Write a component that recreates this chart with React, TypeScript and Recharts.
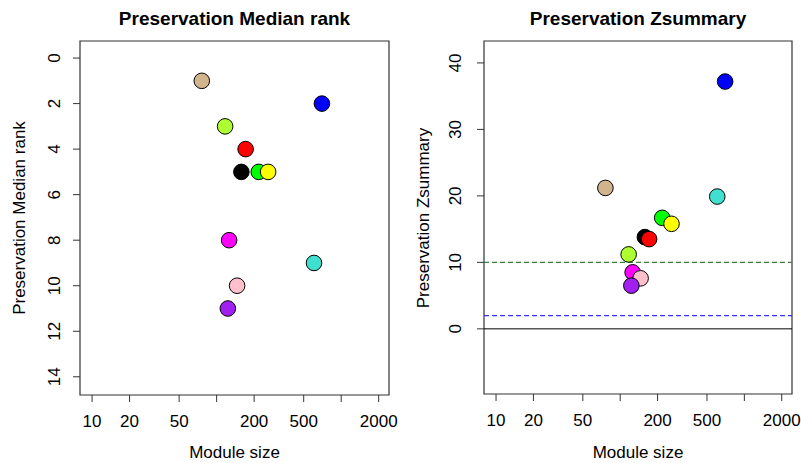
import React from "react";
import { ScatterChart, Scatter, XAxis, YAxis, ReferenceArea, ReferenceLine } from "recharts";

// modules (named by colour), in plotting order
const modules = ["black", "blue", "green", "greenyellow", "magenta", "pink", "purple", "red", "tan", "turquoise", "yellow"];
const moduleFill = ["#000000", "#0000FF", "#00FF00", "#ADFF2F", "#FF00FF", "#FFC0CB", "#A020F0", "#FF0000", "#D2B48C", "#40E0D0", "#FFFF00"];
const moduleSize = [158, 700, 218, 117, 126, 146, 123, 171, 76, 605, 259];
const medianRank = [5, 2, 5, 3, 8, 10, 11, 4, 1, 9, 5];
const zSummary = [13.8, 37.2, 16.7, 11.2, 8.5, 7.6, 6.5, 13.5, 21.2, 19.9, 15.8];

const xTicks = [10, 20, 50, 100, 200, 500, 1000, 2000];
const xTickLabels = ["10", "20", "50", "", "200", "500", "", "2000"];
const rankTicks = [0, 2, 4, 6, 8, 10, 12, 14];
const zTicks = [0, 10, 20, 30, 40];

const X_DOMAIN: [number, number] = [8, 2420];
const RANK_DOMAIN: [number, number] = [-0.75, 14.8];
const Z_DOMAIN: [number, number] = [-9.8, 43.3];

const FONT = "'Liberation Sans', Arial, sans-serif";

const rankData = modules.map((m, i) => ({ module: m, size: moduleSize[i], value: medianRank[i], fill: moduleFill[i] }));
const zData = modules.map((m, i) => ({ module: m, size: moduleSize[i], value: zSummary[i], fill: moduleFill[i] }));

const Dot = (props: any) => {
    const { cx, cy, payload } = props;
    return <circle cx={cx} cy={cy} r={7.8} fill={payload.fill} stroke="#000" strokeWidth={1} />;
};

const RotTick = (props: any) => {
    const { x, y, payload } = props;
    return (
        <text x={x} y={y} transform={`rotate(-90 ${x} ${y})`} textAnchor="middle" fontSize={17} fontFamily={FONT} fill="#000">
            {payload.value}
        </text>
    );
};

function Panel({ left, width, data, yDomain, yTicks, reversed, yWidth, xHeight, marginRight, yTickMargin, title, ylabel, ylabelX, refLines }: any) {
    const plotLeft = left + yWidth;
    const plotRight = left + width - marginRight;
    const centerX = (plotLeft + plotRight) / 2;
    return (
        <>
            <div style={{ position: "absolute", left, top: 0 }}>
                <ScatterChart width={width} height={463} margin={{ top: 41, right: marginRight, bottom: 0, left: 0 }}>
                    <XAxis
                        type="number"
                        dataKey="size"
                        scale="log"
                        domain={X_DOMAIN}
                        allowDataOverflow
                        ticks={xTicks}
                        interval={0}
                        height={xHeight}
                        tickSize={7}
                        tickMargin={13}
                        axisLine={false}
                        tickLine={{ stroke: "#333" }}
                        tickFormatter={(v: number) => xTickLabels[xTicks.indexOf(v)] ?? ""}
                        tick={{ fontSize: 17, fontFamily: FONT, fill: "#000" }}
                    />
                    <YAxis
                        type="number"
                        dataKey="value"
                        domain={yDomain}
                        allowDataOverflow
                        reversed={reversed}
                        ticks={yTicks}
                        interval={0}
                        width={yWidth}
                        tickSize={7}
                        tickMargin={yTickMargin}
                        axisLine={false}
                        tickLine={{ stroke: "#333" }}
                        tick={<RotTick />}
                    />
                    <ReferenceArea x1={X_DOMAIN[0]} x2={X_DOMAIN[1]} y1={yDomain[0]} y2={yDomain[1]} fill="none" stroke="#333" strokeWidth={1.2} fillOpacity={0} />
                    {refLines}
                    <Scatter data={data} shape={<Dot />} isAnimationActive={false} />
                </ScatterChart>
            </div>
            <div style={{ position: "absolute", left: centerX - 200, width: 400, top: 8, textAlign: "center", fontFamily: FONT, fontWeight: "bold", fontSize: 19 }}>
                {title}
            </div>
            <div style={{ position: "absolute", left: centerX - 200, width: 400, top: 443, textAlign: "center", fontFamily: FONT, fontSize: 17 }}>
                Module size
            </div>
            <div
                style={{
                    position: "absolute",
                    left: ylabelX - 150,
                    top: 218 - 11,
                    width: 300,
                    height: 22,
                    lineHeight: "22px",
                    textAlign: "center",
                    fontFamily: FONT,
                    fontSize: 17,
                    transform: "rotate(-90deg)",
                }}
            >
                {ylabel}
            </div>
        </>
    );
}

export default function App() {
    return (
        <div style={{ position: "absolute", left: 0, top: 0, width: 801, height: 463, background: "#fff", overflow: "hidden" }}>
            <Panel
                left={0}
                width={400}
                data={rankData}
                yDomain={RANK_DOMAIN}
                yTicks={rankTicks}
                reversed
                yWidth={80}
                xHeight={68}
                marginRight={11}
                yTickMargin={13}
                title="Preservation Median rank"
                ylabel="Preservation Median rank"
                ylabelX={20}
            />
            <Panel
                left={400}
                width={401}
                data={zData}
                yDomain={Z_DOMAIN}
                yTicks={zTicks}
                reversed={false}
                yWidth={84}
                xHeight={69}
                marginRight={9}
                yTickMargin={16}
                title="Preservation Zsummary"
                ylabel="Preservation Zsummary"
                ylabelX={424}
                refLines={[
                    <ReferenceLine key="z0" y={0} stroke="#000" strokeWidth={1} />,
                    <ReferenceLine key="z2" y={2} stroke="#3030FF" strokeDasharray="5 3" strokeWidth={1.3} />,
                    <ReferenceLine key="z10" y={10} stroke="#3F7F3F" strokeDasharray="5 3" strokeWidth={1.3} />,
                ]}
            />
        </div>
    );
}
